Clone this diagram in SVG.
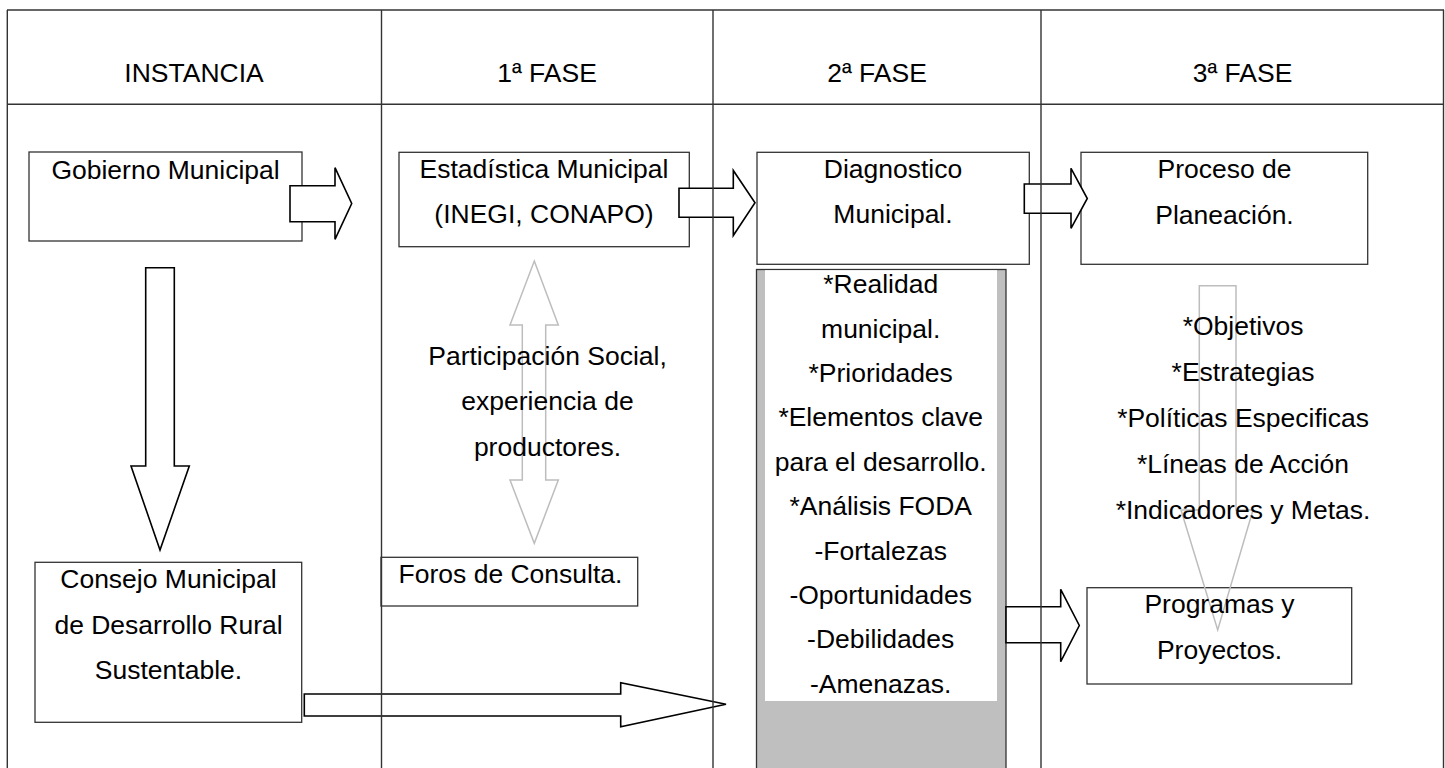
<svg xmlns="http://www.w3.org/2000/svg" width="1445" height="768" viewBox="0 0 1445 768">
<style>
.box{fill:#fff;stroke:#333;stroke-width:1.3}
.arr{fill:#fff;stroke:#000;stroke-width:1.6;stroke-linejoin:miter}
.garr{fill:none;stroke:#bdbdbd;stroke-width:1.5}
.grid{stroke:#333;stroke-width:1.4;fill:none}
.t{font-family:"Liberation Sans",Arial,sans-serif;font-size:25px;fill:#000;text-anchor:middle}
</style>
<rect x="0" y="0" width="1445" height="768" fill="#fff"/>

<g id="fase2-detail">
<rect x="756.5" y="269.5" width="249.5" height="510" fill="#bfbfbf" stroke="#333" stroke-width="1.3"/>
<rect x="765" y="270.2" width="232" height="430.8" fill="#fff"/>
</g>

<g id="gobierno"><rect class="box" x="29" y="152" width="273" height="89"/></g>
<g id="estadistica"><rect class="box" x="399" y="152.3" width="290.3" height="94.4"/></g>
<g id="diagnostico"><rect class="box" x="757" y="152.3" width="272.3" height="112"/></g>
<g id="proceso"><rect class="box" x="1081" y="152.3" width="286.7" height="112"/></g>
<g id="consejo"><rect class="box" x="35" y="562.3" width="266.7" height="160"/></g>
<g id="foros"><rect class="box" x="381" y="557.3" width="256.7" height="48.7"/></g>
<g id="programas"><rect class="box" x="1087" y="587.7" width="264.7" height="96.3"/></g>

<g id="connectors">
<path class="arr" d="M290,185.7 H335 V167.7 L351.7,203.5 L335,239.3 V221.7 H290 Z"/>
<path class="arr" d="M679,188.3 H733.3 V170.5 L755,202.8 L733.3,235.5 V217.3 H679 Z"/>
<path class="arr" d="M1024.3,184 H1071 V168.3 L1087.3,198.5 L1071,228.3 V213.3 H1024.3 Z"/>
<path class="arr" d="M145.7,267.7 H174.3 V466 H189.3 L160,550 L131,466 H145.7 Z"/>
<path class="arr" d="M304.3,694 H620.7 V682.7 L726,704.3 L620.7,726.7 V716 H304.3 Z"/>
<path class="arr" d="M1006,606.7 H1060.7 V589.3 L1079.3,625.5 L1060.7,661.7 V642.7 H1006 Z"/>
<path class="garr" d="M534.3,261 L558.3,325 H545.7 V480 H558.3 L534.3,543.3 L510,480 H522.3 V325 H510 Z"/>
<path class="garr" d="M1199.3,285.7 H1236 V510 H1253 L1217.7,630 L1181,510 H1199.3 Z"/>
</g>

<g id="table">
<line class="grid" x1="7" y1="10" x2="1444" y2="10"/>
<line class="grid" x1="7" y1="104.3" x2="1444" y2="104.3" stroke="#444" stroke-width="2"/>
<line class="grid" x1="7.3" y1="10" x2="7.3" y2="768"/>
<line class="grid" x1="381.5" y1="10" x2="381.5" y2="768"/>
<line class="grid" x1="713" y1="10" x2="713" y2="768"/>
<line class="grid" x1="1041" y1="10" x2="1041" y2="768"/>
<line class="grid" x1="1443.5" y1="10" x2="1443.5" y2="768" stroke-width="2"/>
</g>

<g id="headers">
<g transform="translate(194,0) scale(1.06,1)"><text class="t" x="0" y="81.7">INSTANCIA</text></g>
<g transform="translate(547,0) scale(1.06,1)"><text class="t" x="0" y="81.7">1ª FASE</text></g>
<g transform="translate(877,0) scale(1.06,1)"><text class="t" x="0" y="81.7">2ª FASE</text></g>
<g transform="translate(1242.5,0) scale(1.06,1)"><text class="t" x="0" y="81.7">3ª FASE</text></g>
</g>

<g id="labels">
<g transform="translate(165.5,0) scale(1.06,1)"><text class="t" x="0" y="179.5">Gobierno Municipal</text></g>
<g transform="translate(544,0) scale(1.06,1)"><text class="t" y="178.3"><tspan x="0">Estadística Municipal</tspan><tspan x="0" dy="45">(INEGI, CONAPO)</tspan></text></g>
<g transform="translate(893,0) scale(1.06,1)"><text class="t" y="178.3"><tspan x="0">Diagnostico</tspan><tspan x="0" dy="45">Municipal.</tspan></text></g>
<g transform="translate(1224.5,0) scale(1.06,1)"><text class="t" y="178.3"><tspan x="0">Proceso de</tspan><tspan x="0" dy="45.5">Planeación.</tspan></text></g>
<g transform="translate(547.5,0) scale(1.06,1)"><text class="t" y="365"><tspan x="0">Participación Social,</tspan><tspan x="0" dy="45.5">experiencia de</tspan><tspan x="0" dy="45.5">productores.</tspan></text></g>
<g transform="translate(510.5,0) scale(1.06,1)"><text class="t" x="0" y="583.3">Foros de Consulta.</text></g>
<g transform="translate(168.5,0) scale(1.06,1)"><text class="t" y="588.3"><tspan x="0">Consejo Municipal</tspan><tspan x="0" dy="45.6">de Desarrollo Rural</tspan><tspan x="0" dy="45.6">Sustentable.</tspan></text></g>
<g transform="translate(880.7,0) scale(1.06,1)"><text class="t" y="293.3"><tspan x="0">*Realidad</tspan><tspan x="0" dy="44.4">municipal.</tspan><tspan x="0" dy="44.4">*Prioridades</tspan><tspan x="0" dy="44.4">*Elementos clave</tspan><tspan x="0" dy="44.4">para el desarrollo.</tspan><tspan x="0" dy="44.4">*Análisis FODA</tspan><tspan x="0" dy="44.4">-Fortalezas</tspan><tspan x="0" dy="44.4">-Oportunidades</tspan><tspan x="0" dy="44.4">-Debilidades</tspan><tspan x="0" dy="44.4">-Amenazas.</tspan></text></g>
<g transform="translate(1243,0) scale(1.06,1)"><text class="t" y="335"><tspan x="0">*Objetivos</tspan><tspan x="0" dy="46">*Estrategias</tspan><tspan x="0" dy="46">*Políticas Especificas</tspan><tspan x="0" dy="46">*Líneas de Acción</tspan><tspan x="0" dy="46">*Indicadores y Metas.</tspan></text></g>
<g transform="translate(1219.5,0) scale(1.06,1)"><text class="t" y="613.3"><tspan x="0">Programas y</tspan><tspan x="0" dy="46">Proyectos.</tspan></text></g>
</g>
</svg>
